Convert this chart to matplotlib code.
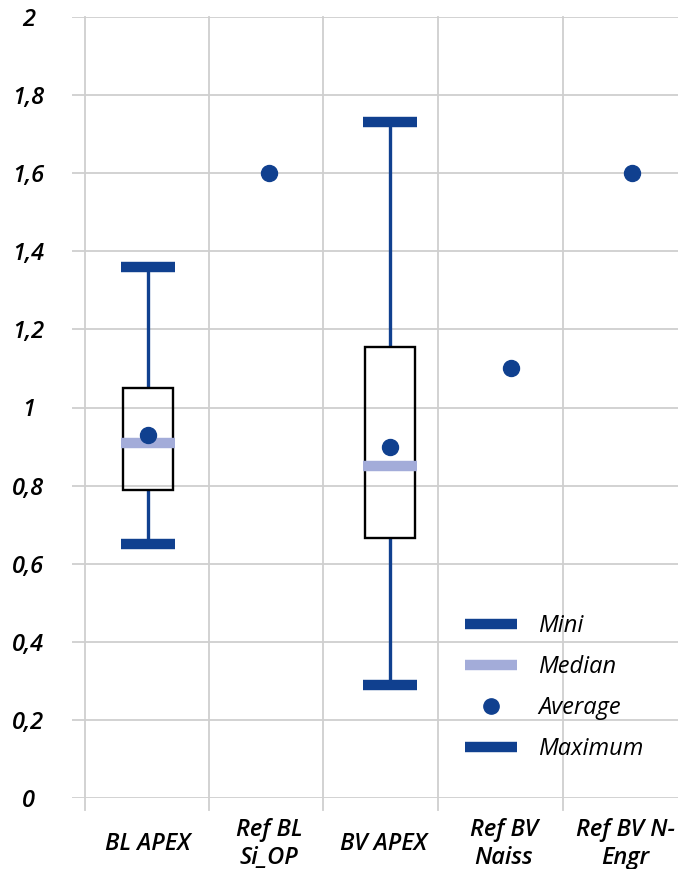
import matplotlib
matplotlib.use("Agg")
from matplotlib import pyplot as plt
from matplotlib.lines import Line2D
from matplotlib import transforms
import numpy as np

plt.rcParams['font.family'] = ['Open Sans', 'DejaVu Sans']

categories = ["BL APEX", "Ref BL\nSi_OP", "BV APEX", "Ref BV\nNaiss", "Ref BV N-\nEngr"]
averages = [0.93, 1.60, 0.90, 1.10, 1.60]

# box plots only exist for the two APEX series
box_idx = [0, 2]
minis = [0.65, 0.29]
q1s = [0.79, 0.665]
medians = [0.91, 0.85]
q3s = [1.05, 1.155]
maxis = [1.36, 1.73]

dark = '#10408f'
light = '#a3acd9'
grid_c = '#cfcfcf'

fig = plt.figure(figsize=(6.78, 8.69), dpi=100)
ax = fig.add_axes([72 / 678, 1 - 798 / 869, 606 / 678, 781 / 869])

px = 121.0  # pixels per category
ax.set_xlim(-76 / px, 530 / px)
ax.set_ylim(0, 2)

# grid
yt = np.arange(0, 2.01, 0.2)
for y in yt:
    ax.axhline(y, color=grid_c, lw=1.3, zorder=0)
for gx in [85, 209, 323, 438, 563]:
    xd = (gx - 148) / px
    ax.plot([xd, xd], [-0.03, 2], color=grid_c, lw=1.3, zorder=0, clip_on=False)

xb = np.array(box_idx, dtype=float)
bw = 0.405
cw = 0.446

ax.vlines(xb, minis, q1s, color=dark, lw=2.4, zorder=2)
ax.vlines(xb, q3s, maxis, color=dark, lw=2.4, zorder=2)
ax.bar(xb, np.array(q3s) - np.array(q1s), bottom=q1s, width=bw,
       fill=False, edgecolor='black', lw=1.7, zorder=3)
ax.hlines(minis, xb - cw / 2, xb + cw / 2, color=dark, lw=7.5, zorder=3)
ax.hlines(maxis, xb - cw / 2, xb + cw / 2, color=dark, lw=7.5, zorder=3)
ax.hlines(medians, xb - cw / 2, xb + cw / 2, color=light, lw=7.5, zorder=4)
ax.plot(np.arange(len(categories)), averages, 'o', color=dark, ms=11.5,
        mec=dark, ls='none', zorder=5)

for s in ax.spines.values():
    s.set_visible(False)
ax.tick_params(length=0)

ax.set_yticks(yt)
ax.set_yticklabels([f"{v:g}".replace('.', ',') for v in yt],
                   fontsize=17, style='italic', fontweight='semibold', ha='center')
ax.tick_params(axis='y', pad=31.5)

ax.set_xticks(np.arange(len(categories)))
ax.set_xticklabels(categories, fontsize=17, style='italic', fontweight='semibold',
                   va='center', linespacing=1.25)
ax.tick_params(axis='x', pad=33)
# the last three labels sit a little left of their marks
for lab in ax.get_xticklabels()[2:]:
    lab.set_transform(lab.get_transform() +
                      transforms.ScaledTranslation(-7 / 100, 0, fig.dpi_scale_trans))

handles = [
    Line2D([], [], color=dark, lw=7.5, solid_capstyle='butt'),
    Line2D([], [], color=light, lw=7.5, solid_capstyle='butt'),
    Line2D([], [], color=dark, marker='o', ms=11, ls='none'),
    Line2D([], [], color=dark, lw=7.5, solid_capstyle='butt'),
]
leg = ax.legend(handles, ["Mini", "Median", "Average", "Maximum"],
                loc='upper left', bbox_to_anchor=(453 / 678, 1 - 602 / 869),
                bbox_transform=fig.transFigure, frameon=False,
                prop={'size': 17, 'style': 'italic', 'weight': 'medium'},
                handlelength=2.2, handletextpad=0.9, labelspacing=0.72,
                borderpad=0)

fig.savefig("out.png", dpi=100)
